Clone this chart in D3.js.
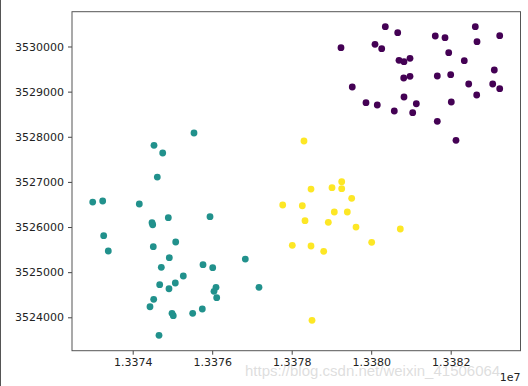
<!DOCTYPE html>
<html>
<head>
<meta charset="utf-8">
<script src="https://cdn.jsdelivr.net/npm/d3@7"></script>
<style>
  body { margin: 0; background: #fff; }
  text { font-family: "DejaVu Sans", sans-serif; }
</style>
</head>
<body>
<div id="chart"></div>
<script>
// cluster 0 (purple)
var purpleX = [13380355, 13380667, 13379240, 13380096, 13380264, 13381612, 13381857, 13382619, 13383233, 13382662,
    13381950, 13382342, 13380699, 13380825, 13380976, 13383097, 13380818, 13380976, 13381663, 13382000,
    13379524, 13382453, 13383057, 13383233, 13382654, 13380825, 13379869, 13380153, 13381135, 13382015,
    13380581, 13381044, 13381663, 13382133];
var purpleY = [3530439, 3530306, 3529973, 3530049, 3529951, 3530233, 3530195, 3530439, 3530239, 3530106,
    3529863, 3529685, 3529694, 3529663, 3529739, 3529479, 3529302, 3529340, 3529346, 3529375,
    3529103, 3529169, 3529169, 3529065, 3528925, 3528881, 3528755, 3528704, 3528732, 3528770,
    3528571, 3528533, 3528342, 3527922];

// cluster 1 (teal)
var tealX = [13375542, 13374536, 13374755, 13374619, 13372994, 13373245, 13374166, 13374486, 13374503, 13374896,
    13375945, 13373270, 13373386, 13374518, 13375082, 13374921, 13374720, 13375769, 13376013, 13376833,
    13375273, 13374679, 13375072, 13374913, 13376096, 13376045, 13376113, 13377177, 13374528, 13374435,
    13374989, 13375021, 13375509, 13375751, 13374662];
var tealY = [3528083, 3527811, 3527640, 3527108, 3526554, 3526577, 3526510, 3526096, 3526051, 3526207,
    3526229, 3525808, 3525469, 3525564, 3525668, 3525320, 3525107, 3525165, 3525099, 3525291,
    3524915, 3524722, 3524760, 3524633, 3524664, 3524576, 3524434, 3524664, 3524398, 3524234,
    3524088, 3524035, 3524088, 3524184, 3523601];

// cluster 2 (yellow)
var yellowX = [13378309, 13379258, 13378486, 13379014, 13379258, 13379509, 13377774, 13378267, 13379072, 13379399,
    13378335, 13378921, 13379618, 13380732, 13380012, 13378015, 13378486, 13378805, 13378511];
var yellowY = [3527906, 3527004, 3526842, 3526871, 3526849, 3526636, 3526488, 3526472, 3526333, 3526333,
    3526140, 3526105, 3526000, 3525956, 3525661, 3525595, 3525580, 3525462, 3523933];

var xTicks = [13374000, 13376000, 13378000, 13380000, 13382000];
var xTickLabels = ["1.3374", "1.3376", "1.3378", "1.3380", "1.3382"];
var yTicks = [3524000, 3525000, 3526000, 3527000, 3528000, 3529000, 3530000];

const width = 528;
const height = 386;
var margins = {top: 11.7, bottom: 35.3, left: 72, right: 7.5};

var svg = d3.select("#chart").append("svg")
    .attr("width", width).attr("height", height);

var x = d3.scaleLinear()
    .domain([13372473, 13383756])
    .range([margins.left, width - margins.right]);
var y = d3.scaleLinear()
    .domain([3523260, 3530771])
    .range([height - margins.bottom, margins.top]);

// left border of the screenshot
svg.append("line")
    .attr("x1", 0.5).attr("x2", 0.5).attr("y1", 0).attr("y2", height)
    .attr("stroke", "#555").attr("stroke-width", 1);

// points
var groups = [
    {xs: purpleX, ys: purpleY, color: "#440154"},
    {xs: tealX, ys: tealY, color: "#21918c"},
    {xs: yellowX, ys: yellowY, color: "#fde725"}
];
var pts = [];
groups.forEach(function (g) {
    g.xs.forEach(function (v, i) {
        pts.push({x: v, y: g.ys[i], color: g.color});
    });
});

svg.append("g")
    .selectAll("circle")
    .data(pts)
    .enter()
    .append("circle")
    .attr("cx", function (d) { return x(d.x); })
    .attr("cy", function (d) { return y(d.y); })
    .attr("r", 3.4)
    .attr("fill", function (d) { return d.color; });

// axes
var xAxis = d3.axisBottom(x)
    .tickValues(xTicks)
    .tickSize(4)
    .tickPadding(4)
    .tickFormat(function (d, i) { return xTickLabels[i]; });
var yAxis = d3.axisLeft(y)
    .tickValues(yTicks)
    .tickSize(4)
    .tickPadding(4)
    .tickFormat(d3.format("d"));

var gx = svg.append("g")
    .attr("transform", "translate(0," + (height - margins.bottom) + ")")
    .call(xAxis);
var gy = svg.append("g")
    .attr("transform", "translate(" + margins.left + ",0)")
    .call(yAxis);

[gx, gy].forEach(function (g) {
    g.select(".domain").remove();
    g.selectAll(".tick line").attr("stroke", "#444");
    g.selectAll(".tick text").attr("fill", "#222").style("font-size", "11px")
        .style("font-family", "DejaVu Sans");
});

// frame
svg.append("rect")
    .attr("x", margins.left).attr("y", margins.top)
    .attr("width", width - margins.left - margins.right)
    .attr("height", height - margins.top - margins.bottom)
    .attr("fill", "none").attr("stroke", "#555").attr("stroke-width", 1);

// offset text
svg.append("text")
    .attr("x", width - margins.right).attr("y", 381)
    .attr("text-anchor", "end")
    .attr("fill", "#222")
    .style("font-size", "11px")
    .text("1e7");

// watermark
svg.append("text")
    .attr("x", 245).attr("y", 376)
    .attr("fill", "#c8c8c8")
    .attr("fill-opacity", 0.6)
    .style("font-family", "Liberation Sans, Arial, sans-serif")
    .style("font-size", "15px")
    .text("https://blog.csdn.net/weixin_41506064");
</script>
</body>
</html>
